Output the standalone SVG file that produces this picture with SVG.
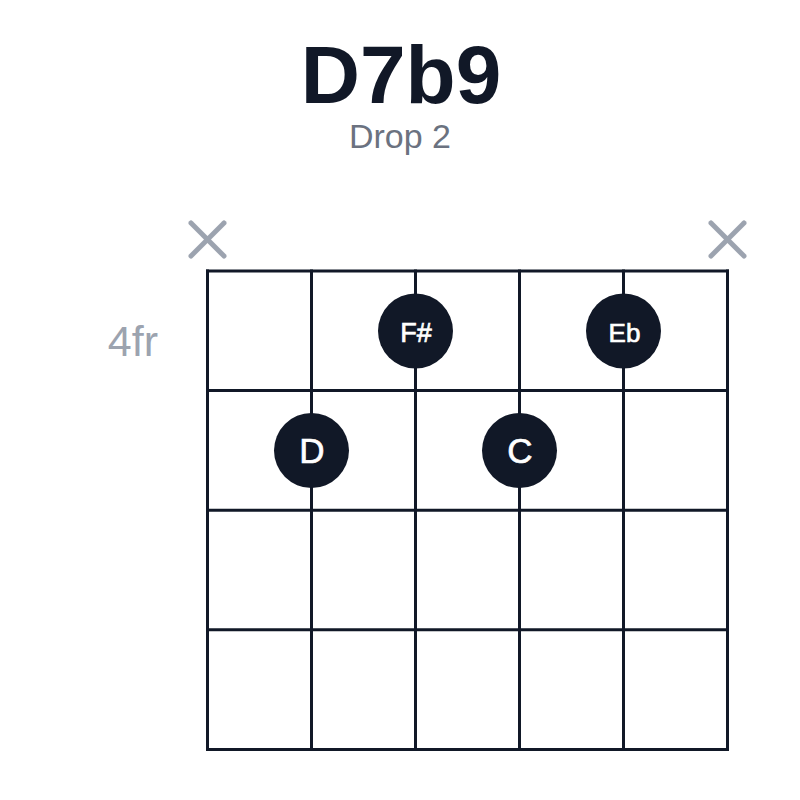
<svg xmlns="http://www.w3.org/2000/svg" width="800" height="800" viewBox="0 0 800 800">
<style>
.title{font-family:"Liberation Sans",Arial,sans-serif;font-weight:bold;font-size:82px;fill:#111827}
.sub{font-family:"Liberation Sans",Arial,sans-serif;font-size:34px;fill:#6b7280}
.fr{font-family:"Liberation Sans",Arial,sans-serif;font-size:43px;fill:#9ca3af}
.grid line{stroke:#111827;stroke-width:3;stroke-linecap:square}
.mute line{stroke:#9ca3af;stroke-width:5;stroke-linecap:round}
.dot circle{fill:#111827}
.dot text{font-family:"Liberation Sans",Arial,sans-serif;fill:#ffffff;stroke:#ffffff;stroke-width:0.7;text-anchor:middle}
</style>
<rect width="800" height="800" fill="#ffffff"/>
<text class="title" x="401" y="103" text-anchor="middle">D7b9</text>
<text class="sub" x="400" y="148" text-anchor="middle">Drop 2</text>
<text class="fr" x="158" y="356" text-anchor="end">4fr</text>
<g id="muted-strings" class="mute">
<line x1="191" y1="223" x2="224" y2="256"/><line x1="224" y1="223" x2="191" y2="256"/>
<line x1="711" y1="223" x2="744" y2="256"/><line x1="744" y1="223" x2="711" y2="256"/>
</g>
<g id="grid" class="grid">
<line x1="207.5" y1="271" x2="727.5" y2="271"/>
<line x1="207.5" y1="390.6" x2="727.5" y2="390.6"/>
<line x1="207.5" y1="510.2" x2="727.5" y2="510.2"/>
<line x1="207.5" y1="629.8" x2="727.5" y2="629.8"/>
<line x1="207.5" y1="749.4" x2="727.5" y2="749.4"/>
<line x1="207.5" y1="271" x2="207.5" y2="749.4"/>
<line x1="311.5" y1="271" x2="311.5" y2="749.4"/>
<line x1="415.5" y1="271" x2="415.5" y2="749.4"/>
<line x1="519.5" y1="271" x2="519.5" y2="749.4"/>
<line x1="623.5" y1="271" x2="623.5" y2="749.4"/>
<line x1="727.5" y1="271" x2="727.5" y2="749.4"/>
</g>
<g id="dot-fs" class="dot"><circle cx="415.5" cy="331" r="37.5"/><text x="416" y="341.5" font-size="27">F#</text></g>
<g id="dot-eb" class="dot"><circle cx="623.5" cy="331" r="37.5"/><text x="624.5" y="341.5" font-size="26">Eb</text></g>
<g id="dot-d" class="dot"><circle cx="311.5" cy="450.5" r="37.5"/><text x="312" y="463" font-size="35">D</text></g>
<g id="dot-c" class="dot"><circle cx="519.5" cy="450.5" r="37.5"/><text x="520" y="463" font-size="35">C</text></g>
</svg>
